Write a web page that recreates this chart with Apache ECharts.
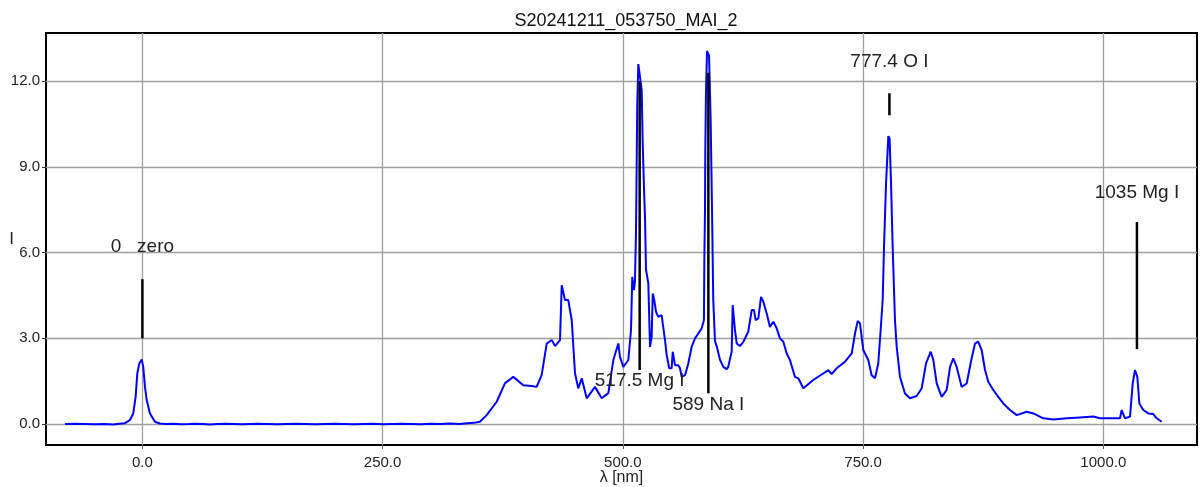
<!DOCTYPE html>
<html><head><meta charset="utf-8">
<script src="https://cdn.jsdelivr.net/npm/echarts@6/dist/echarts.min.js"></script>
<style>html,body{margin:0;padding:0;background:#fff}#c{width:1202px;height:487px}</style>
</head><body><div id="c"></div>
<script>
const titleText = 'S20241211_053750_MAI_2';
const xName = 'λ [nm]';
const yName = 'I';
const xTicks = [0, 250, 500, 750, 1000];
const yTicks = [0, 3, 6, 9, 12];

const wavelength = [
  -80.5,-70,-60,-50,-40,-30,-24,-18,-12.9,-9.5,-7,-5.3,-3.2,-0.7,0.9,2.7,4.5,7.9,13.1,
  18,25,32,40,48,55,63,70,78,86,95,104,112,120,130,140,150,160,170,180,190,200,210,220,
  230,240,250,260,270,280,290,300,310,320,330,338,345,351.3,358.3,368.7,377.4,386.0,396.4,
  405.1,410.3,415.5,420.8,426.0,429.4,434.6,436.4,439.8,443.2,446.8,450.2,453.6,457.2,462.4,
  471.0,478.0,484.9,490.1,495.3,497.0,500.5,505.7,508.5,509.8,511.6,512.6,513.7,515.0,516.1,
  517.8,519.6,520.7,522.0,523.1,524.1,525.2,526.5,528.3,530.0,531.1,532.7,534.5,536.9,540.4,
  541.5,543.9,545.6,548.3,550.8,551.9,554.3,557.7,559.5,561.2,564.7,568.1,571.6,575.1,578.5,
  582.1,584.4,584.8,585.5,585.8,586.5,587.6,589.7,591.4,592.8,594.1,595.9,597.7,601.1,604.5,
  608.1,609.7,613.3,614.3,616.0,616.7,618.5,621.9,625.4,630.5,634.1,636.5,638.2,641.0,643.8,
  646.2,649.7,653.1,656.6,660.1,663.5,667.0,670.5,673.9,679.1,682.6,687.8,698.2,708.6,713.8,
  717.3,722.5,731.2,738.2,741.6,744.4,746.8,750.2,755.4,758.9,762.4,765.8,768.3,770.4,771.8,
  773.9,776.3,777.6,779.1,780.8,783.2,785.0,788.4,793.6,798.8,805.8,811.0,815.5,820.4,823.1,
  826.6,831.8,837.0,840.5,843.9,847.4,852.6,857.8,863.0,866.5,869.9,873.4,876.9,880.3,885.5,
  890.7,895.9,902.9,909.9,920.3,927.2,937.6,948.0,962.0,975.8,989.6,996.6,1010.4,1017.4,1019.1,
  1022.6,1027.8,1030.6,1033.0,1035.4,1037.5,1041.6,1046.8,1052.0,1055.6,1060.8
];
const intensity = [
  0.00,0.01,0.00,-0.01,0.00,-0.02,0.01,0.03,0.14,0.37,0.96,1.77,2.12,2.26,2.00,1.30,0.84,0.37,0.08,
  0.02,0.00,0.01,-0.01,0.00,0.01,0.00,-0.02,0.00,0.01,0.00,-0.01,0.00,0.01,0.00,-0.01,0.00,0.01,0.00,-0.01,0.00,0.01,0.00,-0.01,
  0.00,0.01,-0.01,0.00,0.01,0.00,-0.01,0.01,0.00,0.02,0.00,0.03,0.04,0.08,0.31,0.78,1.43,1.65,1.36,
  1.33,1.30,1.71,2.82,2.94,2.73,2.94,4.86,4.34,4.34,3.64,1.78,1.25,1.60,0.90,
  1.30,0.90,1.08,2.24,2.82,2.35,2.00,2.24,3.29,5.15,4.69,5.00,6.75,11.20,12.60,
  12.60,11.70,9.80,8.26,7.20,5.40,5.46,4.93,2.70,3.05,4.57,4.34,3.93,3.75,3.81,
  3.52,2.94,2.41,1.95,1.95,2.53,2.06,2.06,1.95,1.65,1.71,2.12,2.70,3.00,3.17,
  3.35,3.64,5.70,7.50,9.50,11.60,13.06,12.90,10.60,7.50,4.34,2.90,2.72,2.25,2.00,
  1.92,2.00,2.55,4.16,4.16,3.29,2.82,2.73,2.88,3.23,3.99,3.99,3.64,3.70,4.45,
  4.28,3.87,3.40,3.58,3.35,3.00,2.88,2.47,2.24,1.65,1.60,1.25,1.54,1.77,1.89,
  1.75,1.95,2.18,2.47,3.17,3.61,3.52,2.59,2.24,1.71,1.60,2.12,3.29,4.34,6.20,
  8.42,10.08,10.00,8.42,6.20,3.64,2.70,1.65,1.07,0.90,0.98,1.25,2.12,2.53,2.24,
  1.42,0.95,1.19,2.00,2.30,2.00,1.30,1.42,2.30,2.82,2.88,2.59,1.89,1.48,1.19,
  0.95,0.72,0.49,0.31,0.43,0.37,0.20,0.16,0.20,0.23,0.26,0.20,0.20,0.20,0.49,
  0.20,0.26,1.42,1.89,1.65,0.72,0.49,0.37,0.35,0.20,0.08
];

const lineWl = [0, 517.5, 589, 777.4, 1035];
const lineNames = ['0   zero', '517.5 Mg I', '589 Na I', '777.4 O I', '1035 Mg I'];
const lineLow = [3.0, 1.89, 1.08, 10.81, 2.62];
const lineHigh = [5.07, 12.0, 12.3, 11.58, 7.07];
const labelY = [6.19, 1.5, 0.66, 12.7, 8.08];

const FONT = '"Liberation Sans", Arial, sans-serif';
const chart = echarts.init(document.getElementById('c'), null, {renderer: 'canvas'});
const option = {
  animation: false,
  backgroundColor: '#fff',
  title: {
    text: titleText, left: 621, top: 7, textAlign: 'center',
    textStyle: {fontFamily: FONT, fontSize: 18, fontWeight: 'normal', color: '#111'}
  },
  grid: {left: 46, right: 5, top: 33, bottom: 42, show: true, borderColor: '#000', borderWidth: 2,
         backgroundColor: 'transparent', outerBoundsMode: 'none', containLabel: false},
  xAxis: {
    type: 'value', min: -100.3, max: 1097.5,
    name: xName, nameLocation: 'middle', nameGap: 25, nameMoveOverlap: false,
    nameTextStyle: {fontFamily: FONT, fontSize: 16, color: '#222'},
    axisLine: {show: false, onZero: false},
    axisTick: {show: true, length: 4, customValues: xTicks, lineStyle: {color: '#666'}},
    axisLabel: {customValues: xTicks, formatter: v => v.toFixed(1), fontFamily: FONT, fontSize: 15, color: '#222', margin: 10},
    splitLine: {show: true, lineStyle: {color: '#a0a0a0', width: 1.3}}
  },
  yAxis: {
    type: 'value', min: -0.735, max: 13.69,
    name: yName, nameLocation: 'middle', nameGap: 32, nameRotate: 0, nameMoveOverlap: false,
    nameTextStyle: {fontFamily: FONT, fontSize: 17, color: '#222'},
    axisLine: {show: false, onZero: false},
    axisTick: {show: true, length: 4, customValues: yTicks, lineStyle: {color: '#333'}},
    axisLabel: {customValues: yTicks, formatter: v => v.toFixed(1), fontFamily: FONT, fontSize: 15, color: '#222', margin: 6},
    splitLine: {show: true, lineStyle: {color: '#a0a0a0', width: 1.3}}
  },
  series: [
    {
      type: 'line', data: wavelength.map((w, i) => [w, intensity[i]]),
      showSymbol: false, symbol: 'none', lineStyle: {color: '#0000ff', width: 2}, z: 2
    },
    {
      type: 'custom', z: 3, clip: false,
      data: lineWl.map((w, i) => [w, lineLow[i], lineHigh[i], labelY[i]]),
      renderItem: (params, api) => {
        const i = params.dataIndex;
        const x = api.value(0);
        const p1 = api.coord([x, api.value(1)]);
        const p2 = api.coord([x, api.value(2)]);
        const pl = api.coord([x, api.value(3)]);
        return {type: 'group', children: [
          {type: 'line', shape: {x1: p1[0], y1: p1[1], x2: p2[0], y2: p2[1]}, style: {stroke: '#000', lineWidth: 2.5}},
          {type: 'text', x: pl[0], y: pl[1], style: {text: lineNames[i], align: 'center', verticalAlign: 'middle', font: '19px ' + FONT, fill: '#222'}}
        ]};
      }
    }
  ]
};
chart.setOption(option);
</script>
</body></html>
